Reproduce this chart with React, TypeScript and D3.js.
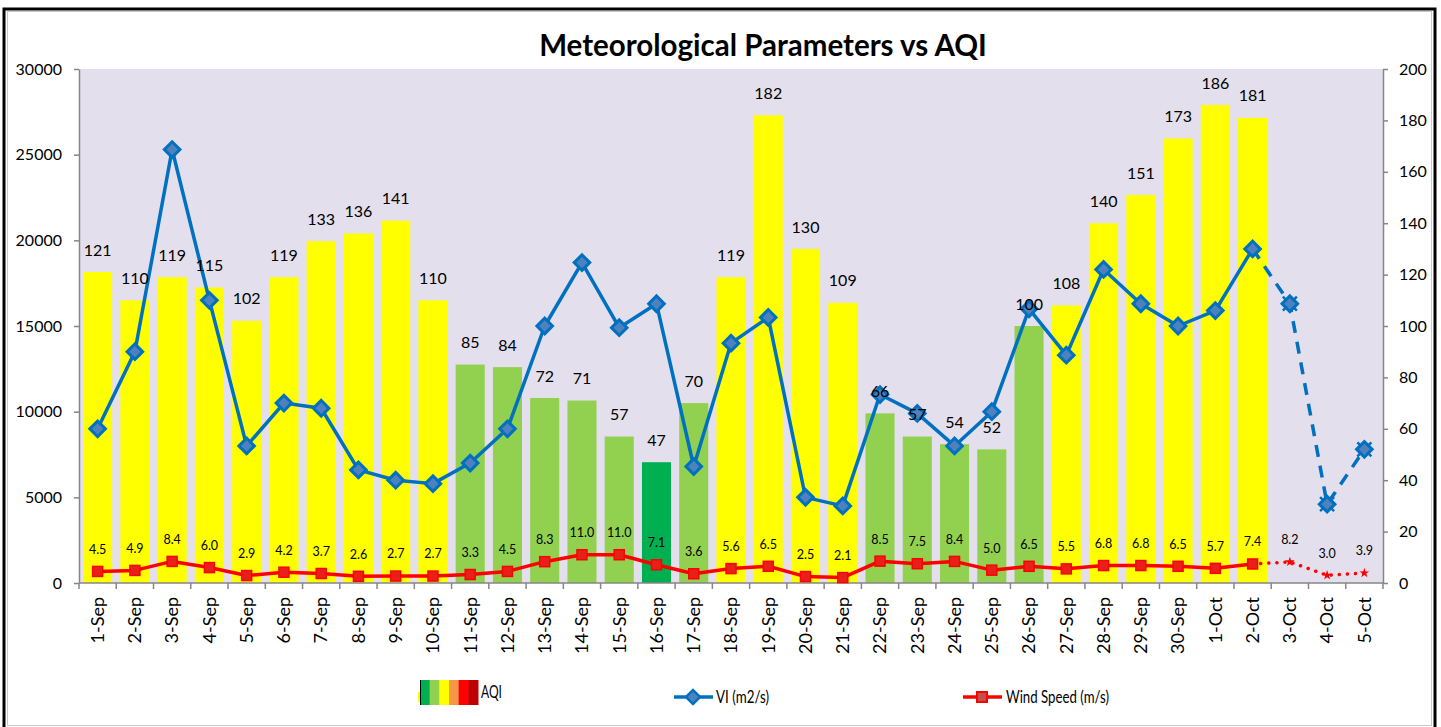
import { useEffect, useRef } from "react";
import * as d3 from "d3";

// categories
const dates = [
  "1-Sep", "2-Sep", "3-Sep", "4-Sep", "5-Sep", "6-Sep", "7-Sep", "8-Sep", "9-Sep", "10-Sep",
  "11-Sep", "12-Sep", "13-Sep", "14-Sep", "15-Sep", "16-Sep", "17-Sep", "18-Sep", "19-Sep", "20-Sep",
  "21-Sep", "22-Sep", "23-Sep", "24-Sep", "25-Sep", "26-Sep", "27-Sep", "28-Sep", "29-Sep", "30-Sep",
  "1-Oct", "2-Oct", "3-Oct", "4-Oct", "5-Oct",
];

// AQI (right axis), no value for the forecast days
const aqi = [
  121, 110, 119, 115, 102, 119, 133, 136, 141, 110,
  85, 84, 72, 71, 57, 47, 70, 119, 182, 130,
  109, 66, 57, 54, 52, 100, 108, 140, 151, 173,
  186, 181, null, null, null,
];

// Ventilation index (left axis)
const vi = [
  9000, 13500, 25300, 16500, 8000, 10500, 10200, 6600, 6000, 5800,
  7000, 9000, 15000, 18700, 14900, 16300, 6800, 14000, 15500, 5000,
  4500, 11000, 9900, 8000, 10000, 16000, 13300, 18300, 16300, 15000,
  15900, 19500, 16300, 4600, 7800,
];

// wind speed (right axis)
const wind = [
  4.5, 4.9, 8.4, 6.0, 2.9, 4.2, 3.7, 2.6, 2.7, 2.7,
  3.3, 4.5, 8.3, 11.0, 11.0, 7.1, 3.6, 5.6, 6.5, 2.5,
  2.1, 8.5, 7.5, 8.4, 5.0, 6.5, 5.5, 6.8, 6.8, 6.5,
  5.7, 7.4, 8.2, 3.0, 3.9,
];

const lastObserved = "2-Oct";
const leftTicks = [0, 5000, 10000, 15000, 20000, 25000, 30000];
const rightTicks = [0, 20, 40, 60, 80, 100, 120, 140, 160, 180, 200];
const aqiLegendColors = ["#00B050", "#92D050", "#FFFF00", "#F79646", "#FF0000", "#C00000"];

const aqiColor = (v: number) => (v <= 50 ? "#00B050" : v <= 100 ? "#92D050" : "#FFFF00");

const FONT = "Lato, 'Open Sans', sans-serif";

export default function App() {
  const svgRef = useRef<SVGSVGElement>(null);

  useEffect(() => {
    const W = 1441, H = 727;
    const margin = { top: 69, right: 58, bottom: 144, left: 79 };
    const svg = d3.select(svgRef.current);
    svg.selectAll("*").remove();

    // frame
    svg.append("rect").attr("width", W).attr("height", H).attr("fill", "#fff");
    svg.append("rect").attr("x", 4).attr("y", 9).attr("width", 1431).attr("height", 740)
      .attr("fill", "none").attr("stroke", "#000").attr("stroke-width", 3);
    svg.append("rect").attr("x", 7.5).attr("y", 11.5).attr("width", 1424).attr("height", 714)
      .attr("fill", "none").attr("stroke", "#c8c8c8").attr("stroke-width", 1);

    svg.append("text")
      .attr("x", 763).attr("y", 46).attr("dy", "0.35em")
      .attr("text-anchor", "middle")
      .attr("font-family", FONT).attr("font-weight", "bold").attr("font-size", 29.5)
      .text("Meteorological Parameters vs AQI");

    const x0 = margin.left, x1 = W - margin.right;
    const y0 = H - margin.bottom, y1 = margin.top;

    const x = d3.scaleBand().domain(dates).range([x0, x1]).paddingInner(0.22).paddingOuter(0.11);
    const cx = (d: string) => (x(d) as number) + x.bandwidth() / 2;
    const edge = d3.scaleLinear().domain([0, dates.length]).range([x0, x1]);
    const yL = d3.scaleLinear().domain([0, 30000]).range([y0, y1]);
    const yR = d3.scaleLinear().domain([0, 200]).range([y0, y1]);

    svg.append("rect").attr("x", x0).attr("y", y1).attr("width", x1 - x0).attr("height", y0 - y1)
      .attr("fill", "#E4DFEC");

    // AQI bars
    const aqiData = dates.map((d, i) => ({ d, v: aqi[i] })).filter((e) => e.v != null) as { d: string; v: number }[];
    svg.append("g").selectAll("rect").data(aqiData).join("rect")
      .attr("x", (e) => x(e.d) as number)
      .attr("y", (e) => yR(e.v))
      .attr("width", x.bandwidth())
      .attr("height", (e) => y0 - yR(e.v))
      .attr("fill", (e) => aqiColor(e.v));

    // axes
    const axisCol = "#868686";
    const styleAxis = (g: any) => {
      g.selectAll(".domain").attr("stroke", axisCol).attr("stroke-width", 1.5);
      g.selectAll(".tick line").attr("stroke", axisCol).attr("stroke-width", 1.5);
      g.selectAll(".tick text").attr("fill", "#000").attr("font-family", FONT).attr("font-size", 16);
    };
    svg.append("g").attr("transform", `translate(${x0},0)`)
      .call(d3.axisLeft(yL).tickValues(leftTicks).tickFormat(d3.format("d")).tickSize(5).tickSizeOuter(0).tickPadding(12))
      .call(styleAxis);
    svg.append("g").attr("transform", `translate(${x1},0)`)
      .call(d3.axisRight(yR).tickValues(rightTicks).tickSize(5).tickSizeOuter(0).tickPadding(11))
      .call(styleAxis);

    const xa = svg.append("g");
    xa.append("line").attr("x1", x0).attr("x2", x1).attr("y1", y0).attr("y2", y0)
      .attr("stroke", axisCol).attr("stroke-width", 1.5);
    xa.selectAll("line.tk").data(d3.range(dates.length + 1)).join("line").attr("class", "tk")
      .attr("x1", (i) => edge(i)).attr("x2", (i) => edge(i))
      .attr("y1", y0).attr("y2", y0 + 6)
      .attr("stroke", axisCol).attr("stroke-width", 1.5);
    xa.selectAll("text").data(dates).join("text")
      .attr("transform", (d) => `translate(${cx(d)},${y0 + 14}) rotate(-90)`)
      .attr("text-anchor", "end").attr("dy", "0.35em")
      .attr("font-family", FONT).attr("font-size", 18)
      .text((d) => d);

    const split = dates.indexOf(lastObserved);
    const idx = d3.range(dates.length);
    const obs = idx.filter((i) => i <= split);
    const fut = idx.filter((i) => i >= split);

    // VI line
    const viLine = d3.line<number>().x((i) => cx(dates[i])).y((i) => yL(vi[i]));
    svg.append("path").attr("d", viLine(obs)).attr("fill", "none")
      .attr("stroke", "#0070C0").attr("stroke-width", 3.5).attr("stroke-linejoin", "round");
    svg.append("path").attr("d", viLine(fut)).attr("fill", "none")
      .attr("stroke", "#0070C0").attr("stroke-width", 3.5).attr("stroke-dasharray", "12 9");
    svg.append("g").selectAll("rect").data(idx).join("rect")
      .attr("x", -5.5).attr("y", -5.5).attr("width", 11).attr("height", 11)
      .attr("transform", (i) => `translate(${cx(dates[i])},${yL(vi[i])}) rotate(45)`)
      .attr("fill", "#4F81BD").attr("stroke", "#0070C0").attr("stroke-width", 3);
    svg.append("g").selectAll("path").data(fut.slice(1)).join("path")
      .attr("transform", (i) => `translate(${cx(dates[i])},${yL(vi[i])})`)
      .attr("d", "M-7,-7L-3,-3M3,3L7,7M-7,7L-3,3M3,-3L7,-7")
      .attr("stroke", "#0070C0").attr("stroke-width", 2.5);

    // wind line
    const wLine = d3.line<number>().x((i) => cx(dates[i])).y((i) => yR(wind[i]));
    svg.append("path").attr("d", wLine(obs)).attr("fill", "none")
      .attr("stroke", "#FF0000").attr("stroke-width", 3.5).attr("stroke-linejoin", "round");
    svg.append("path").attr("d", wLine(fut)).attr("fill", "none")
      .attr("stroke", "#FF0000").attr("stroke-width", 3.5)
      .attr("stroke-dasharray", "0.1 8").attr("stroke-linecap", "round");
    svg.append("g").selectAll("rect").data(obs).join("rect")
      .attr("x", (i) => cx(dates[i]) - 5).attr("y", (i) => yR(wind[i]) - 5)
      .attr("width", 10).attr("height", 10)
      .attr("fill", "#E8201A").attr("stroke", "#FF0000").attr("stroke-width", 1.5);
    svg.append("g").selectAll("path").data(fut.slice(1)).join("path")
      .attr("transform", (i) => `translate(${cx(dates[i])},${yR(wind[i])})`)
      .attr("d", d3.symbol(d3.symbolStar, 30)())
      .attr("fill", "#FF0000");

    // data labels
    svg.append("g").selectAll("text").data(aqiData).join("text")
      .attr("x", (e) => cx(e.d)).attr("y", (e) => yR(e.v) - 22).attr("dy", "0.35em")
      .attr("text-anchor", "middle").attr("font-family", FONT).attr("font-size", 16)
      .text((e) => e.v);
    svg.append("g").selectAll("text").data(idx).join("text")
      .attr("x", (i) => cx(dates[i])).attr("y", (i) => yR(wind[i]) - 22).attr("dy", "0.35em")
      .attr("text-anchor", "middle").attr("font-family", FONT).attr("font-size", 12.5)
      .text((i) => wind[i].toFixed(1));

    // legend
    const lg = svg.append("g");
    const ly = 697;
    const legendText = (tx: number, ty: number, s: string, len: number) =>
      lg.append("text").attr("x", tx).attr("y", ty).attr("dy", "0.35em")
        .attr("font-family", FONT).attr("font-size", 18)
        .attr("textLength", len).attr("lengthAdjust", "spacingAndGlyphs")
        .text(s);

    lg.append("rect").attr("x", 418).attr("y", 692).attr("width", 2).attr("height", 10).attr("fill", "#FFFF00");
    const sw = d3.scaleBand().domain(d3.range(aqiLegendColors.length).map(String)).range([420, 478]);
    lg.selectAll("rect.sw").data(aqiLegendColors).join("rect").attr("class", "sw")
      .attr("x", (_, i) => sw(String(i)) as number).attr("y", 680)
      .attr("width", sw.bandwidth() + 0.5).attr("height", 25).attr("fill", (c) => c);
    lg.append("line").attr("x1", 420.5).attr("x2", 420.5).attr("y1", 680).attr("y2", 705).attr("stroke", "#000");
    legendText(481, 692, "AQI", 21);

    lg.append("line").attr("x1", 674).attr("x2", 713).attr("y1", ly).attr("y2", ly)
      .attr("stroke", "#0070C0").attr("stroke-width", 3.5);
    lg.append("rect").attr("x", -5).attr("y", -5).attr("width", 10).attr("height", 10)
      .attr("transform", `translate(693,${ly}) rotate(45)`)
      .attr("fill", "#4F81BD").attr("stroke", "#0070C0").attr("stroke-width", 2.5);
    legendText(716, ly, "VI (m2/s)", 53);

    lg.append("line").attr("x1", 963).attr("x2", 1002).attr("y1", ly).attr("y2", ly)
      .attr("stroke", "#FF0000").attr("stroke-width", 3.5);
    lg.append("rect").attr("x", 977).attr("y", ly - 5).attr("width", 10).attr("height", 10)
      .attr("fill", "#C0504D").attr("stroke", "#FF0000").attr("stroke-width", 2);
    legendText(1006, ly, "Wind Speed (m/s)", 103);
  }, []);

  return (
    <svg
      ref={svgRef}
      width={1441}
      height={727}
      style={{ position: "absolute", left: 0, top: 0, display: "block" }}
    ></svg>
  );
}
